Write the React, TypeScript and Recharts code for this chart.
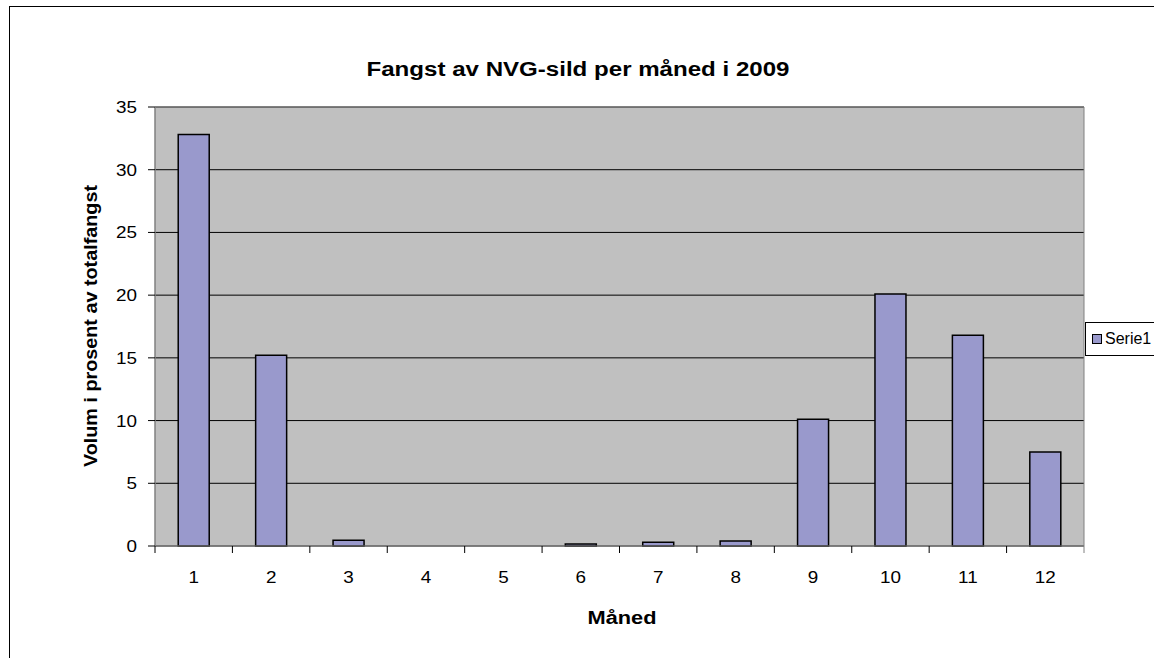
import React from "react";
import {
  BarChart,
  Bar,
  XAxis,
  YAxis,
  CartesianGrid,
  ReferenceArea,
} from "recharts";

const months = ["1", "2", "3", "4", "5", "6", "7", "8", "9", "10", "11", "12"];
const serie1 = [32.8, 15.2, 0.45, 0, 0, 0.15, 0.3, 0.4, 10.1, 20.1, 16.8, 7.5];
const yTicks = [0, 5, 10, 15, 20, 25, 30, 35];
const seriesName = "Serie1";

const data = months.map((m, i) => ({ month: m, Serie1: serie1[i] }));

const W = 1154;
const H = 658;
const PLOT_LEFT = 155;
const PLOT_RIGHT = 1084;
const PLOT_TOP = 107;
const PLOT_BOTTOM = 546;
const Y_AXIS_W = 60;
const X_AXIS_H = 40;
const BAND = (PLOT_RIGHT - PLOT_LEFT) / months.length;
const FONT = "'Liberation Sans', Arial, sans-serif";
const STRETCH = 1.18; // the reference text is a bit wide

const MonthTick = (props: any) => {
  const { x, y, payload, index } = props;
  const left = x - BAND / 2;
  return (
    <g>
      <line x1={left} y1={y} x2={left} y2={y + 7} stroke="#000" />
      {index === months.length - 1 && (
        <line x1={x + BAND / 2} y1={y} x2={x + BAND / 2} y2={y + 7} stroke="#808080" />
      )}
      <text
        transform={`translate(${x}, ${y + 37}) scale(${STRETCH}, 1)`}
        textAnchor="middle"
        fontSize={16}
        fill="#000"
        fontFamily={FONT}
      >
        {payload.value}
      </text>
    </g>
  );
};

const ValueTick = (props: any) => {
  const { x, y, payload } = props;
  return (
    <text
      transform={`translate(${x}, ${y + 6}) scale(${STRETCH}, 1)`}
      textAnchor="end"
      fontSize={16}
      fill="#000"
      fontFamily={FONT}
    >
      {payload.value}
    </text>
  );
};

export default function App() {
  return (
    <div
      style={{
        position: "absolute",
        left: 0,
        top: 0,
        width: W,
        height: H,
        background: "#fff",
        overflow: "hidden",
        fontFamily: FONT,
      }}
    >
      <div
        style={{
          position: "absolute",
          left: 9,
          top: 6,
          width: W,
          height: H,
          border: "1px solid #000",
        }}
      />
      <BarChart
        width={W}
        height={H}
        data={data}
        barCategoryGap="30%"
        margin={{
          top: PLOT_TOP,
          left: PLOT_LEFT - Y_AXIS_W,
          right: W - PLOT_RIGHT,
          bottom: H - PLOT_BOTTOM - X_AXIS_H,
        }}
        style={{ position: "absolute", left: 0, top: 0 }}
      >
        <CartesianGrid vertical={false} stroke="#000" fill="#C0C0C0" />
        <ReferenceArea y1={0} y2={35} fill="none" stroke="#808080" ifOverflow="extendDomain" />
        <XAxis
          dataKey="month"
          height={X_AXIS_H}
          axisLine={{ stroke: "#808080" }}
          tickLine={false}
          tickSize={0}
          tickMargin={0}
          interval={0}
          tick={<MonthTick />}
        />
        <YAxis
          width={Y_AXIS_W}
          domain={[0, 35]}
          ticks={yTicks}
          interval={0}
          axisLine={{ stroke: "#808080" }}
          tickLine={{ stroke: "#000" }}
          tickSize={7}
          tickMargin={11}
          tick={<ValueTick />}
        />
        <Bar
          dataKey="Serie1"
          name={seriesName}
          fill="#9999CC"
          stroke="#000"
          strokeWidth={1.5}
          isAnimationActive={false}
        />
        <text
          x={W / 2 + 1}
          y={76}
          textAnchor="middle"
          fontSize={20}
          fontWeight="bold"
          fontFamily={FONT}
          fill="#000"
          textLength={423}
          lengthAdjust="spacingAndGlyphs"
        >
          Fangst av NVG-sild per måned i 2009
        </text>
        <text
          x={622}
          y={624}
          textAnchor="middle"
          fontSize={18}
          fontWeight="bold"
          fontFamily={FONT}
          fill="#000"
          textLength={69}
          lengthAdjust="spacingAndGlyphs"
        >
          Måned
        </text>
        <text
          transform={`translate(97, 326) rotate(-90)`}
          textAnchor="middle"
          fontSize={18}
          fontWeight="bold"
          fontFamily={FONT}
          fill="#000"
          textLength={282}
          lengthAdjust="spacingAndGlyphs"
        >
          Volum i prosent av totalfangst
        </text>
      </BarChart>
      <div
        style={{
          position: "absolute",
          left: 1085,
          top: 322,
          width: 90,
          height: 34,
          border: "1px solid #000",
          background: "#fff",
          display: "flex",
          alignItems: "center",
          fontFamily: FONT,
          fontSize: 16,
          color: "#000",
          boxSizing: "border-box",
          whiteSpace: "nowrap",
        }}
      >
        <span
          style={{
            display: "inline-block",
            flex: "none",
            width: 8,
            height: 8,
            background: "#9999CC",
            border: "1px solid #000",
            marginLeft: 6,
            marginRight: 3,
          }}
        />
        <span>{seriesName}</span>
      </div>
    </div>
  );
}
